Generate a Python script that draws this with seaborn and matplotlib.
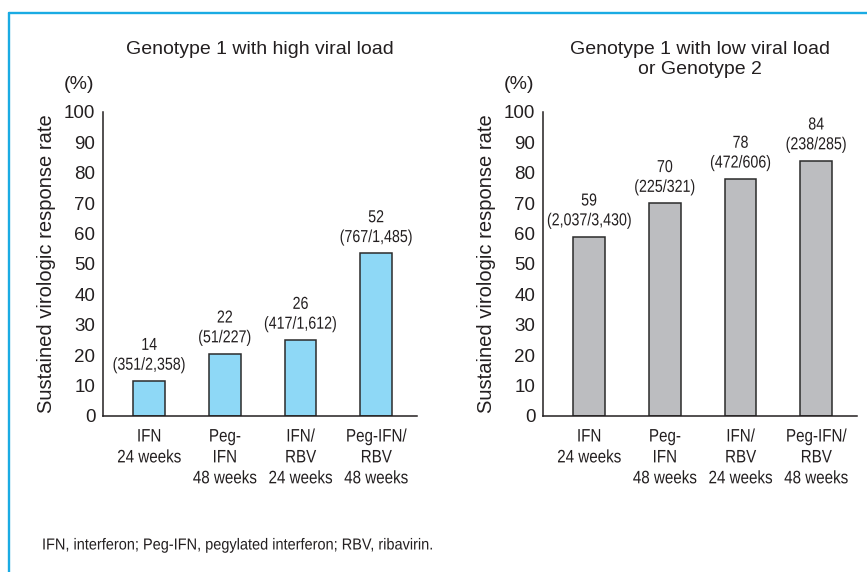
"""
Sustained virologic response rate by regimen, two genotype panels.
"""
import matplotlib.pyplot as plt
from matplotlib import patheffects
from matplotlib.lines import Line2D
from matplotlib.transforms import Affine2D
import seaborn as sns

# ---- data -----------------------------------------------------------------
categories = ["IFN\n24 weeks", "Peg-\nIFN\n48 weeks", "IFN/\nRBV\n24 weeks", "Peg-IFN/\nRBV\n48 weeks"]

# left panel: genotype 1, high viral load (bar heights as drawn)
high_heights = [11.5, 20.5, 25, 53.5]
high_pct = ["14", "22", "26", "52"]
high_counts = ["(351/2,358)", "(51/227)", "(417/1,612)", "(767/1,485)"]

# right panel: genotype 1 low viral load or genotype 2
low_heights = [59, 70, 78, 84]
low_pct = ["59", "70", "78", "84"]
low_counts = ["(2,037/3,430)", "(225/321)", "(472/606)", "(238/285)"]

yticks = [0, 10, 20, 30, 40, 50, 60, 70, 80, 90, 100]

TEXT = "#231F20"
MAIN = ["Liberation Sans", "DejaVu Sans"]


class Condense(patheffects.AbstractPathEffect):
    """Squeeze glyph paths horizontally -- no condensed font is installed."""

    def __init__(self, sx=0.82, anchor="center"):
        super().__init__()
        self.sx = sx
        self.anchor = anchor

    def draw_path(self, renderer, gc, tpath, affine, rgbFace=None):
        ext = tpath.get_extents()
        cx = (ext.x0 + ext.x1) / 2 if self.anchor == "center" else 0
        squeeze = Affine2D().translate(-cx, 0).scale(self.sx, 1).translate(cx, 0)
        renderer.draw_path(gc, tpath, squeeze + affine, rgbFace)


sns.set_style("white")
plt.rcParams["font.family"] = MAIN
plt.rcParams["text.color"] = TEXT
plt.rcParams["axes.labelcolor"] = TEXT
plt.rcParams["xtick.color"] = TEXT
plt.rcParams["ytick.color"] = TEXT

W, H = 867, 572
fig = plt.figure(figsize=(W / 100, H / 100), dpi=100)

panels = [
    (103, high_heights, high_pct, high_counts, "#8ED8F6",
     "Genotype 1 with high viral load"),
    (543, low_heights, low_pct, low_counts, "#BCBDC0",
     "Genotype 1 with low viral load\nor Genotype 2"),
]

ax_w, top_px, bot_px = 314, 112, 416
for left_px, heights, pct, counts, color, title in panels:
    ax = fig.add_axes([left_px / W, 1 - bot_px / H, ax_w / W, (bot_px - top_px) / H])
    sns.barplot(x=categories, y=heights, ax=ax, color=color, edgecolor="#2B2B2B",
                linewidth=1.1, width=0.42, saturation=1)
    ax.set_xlim(-0.61, 3.54)
    ax.set_ylim(0, 100)
    ax.set_yticks(yticks)
    ax.tick_params(axis="y", direction="in", length=7, width=1, pad=5.5, labelsize=13.5)
    ax.tick_params(axis="x", length=0, pad=9)
    # closing tick at right end of x axis
    ax.set_xticks([3.54], minor=True)
    ax.tick_params(axis="x", which="minor", direction="in", length=7, width=1)
    for lbl in ax.get_xticklabels():
        lbl.set_fontsize(13)
        lbl.set_linespacing(1.3)
        lbl.set_path_effects([Condense(0.84)])

    for side in ["top", "right"]:
        ax.spines[side].set_visible(False)
    for side in ["left", "bottom"]:
        ax.spines[side].set_color(TEXT)
        ax.spines[side].set_linewidth(1.1)

    ax.set_ylabel("Sustained virologic response rate", fontsize=14.5, labelpad=6)
    ax.text(-0.075, 1.09, "(%)", transform=ax.transAxes, ha="center", va="center", fontsize=14)
    ax.text(0.5, 1.232, title, transform=ax.transAxes, ha="center", va="top",
            fontsize=14, linespacing=1.2)

    for i, (h, p, c) in enumerate(zip(heights, pct, counts)):
        ax.annotate(f"{p}\n{c}", xy=(i, h), xytext=(0, 6), textcoords="offset points",
                    ha="center", va="bottom", fontsize=12.5, linespacing=1.4,
                    path_effects=[Condense(0.82)])

# blue frame (top and left)
frame = "#1AABE3"
fig.add_artist(Line2D([9 / W, 1], [1 - 13 / H, 1 - 13 / H], color=frame, lw=1.7,
                      transform=fig.transFigure))
fig.add_artist(Line2D([9 / W, 9 / W], [0, 1 - 13 / H], color=frame, lw=1.7,
                      transform=fig.transFigure))

fig.text(42 / W, 1 - 545 / H, "IFN, interferon; Peg-IFN, pegylated interferon; RBV, ribavirin.",
         ha="left", va="center", fontsize=11.5, path_effects=[Condense(0.91, anchor="left")])

fig.savefig("out.png", dpi=100)
